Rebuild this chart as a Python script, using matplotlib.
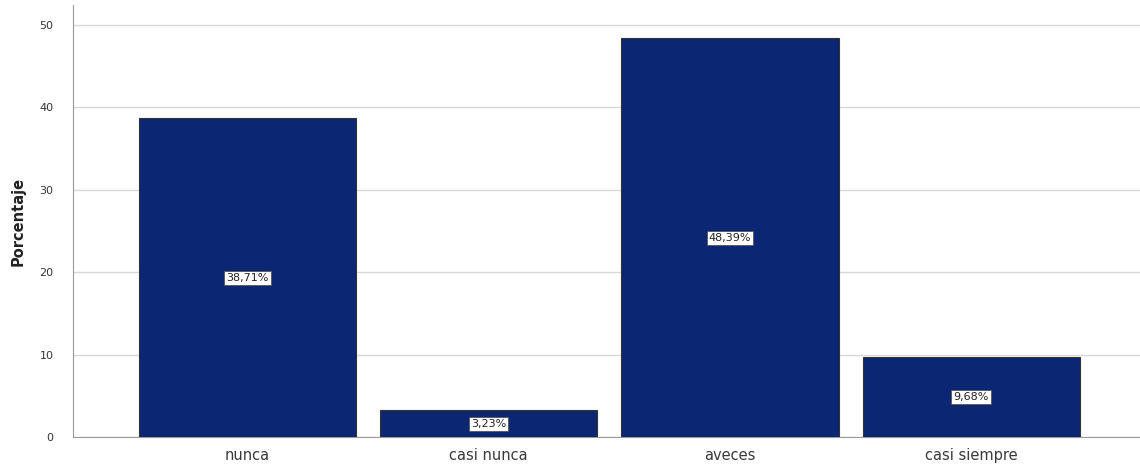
import matplotlib
matplotlib.use("Agg")
from matplotlib import pyplot as plt
import numpy as np

# datos
categorias = ['nunca', 'casi nunca', 'aveces', 'casi siempre']
porcentajes = [38.71, 3.23, 48.39, 9.68]
etiquetas = ['38,71%', '3,23%', '48,39%', '9,68%']
y_ticks = [0, 10, 20, 30, 40, 50]

fig = plt.figure(figsize=(11.4, 4.66), dpi=100)
ax = fig.add_axes([0.064, 0.062, 0.936, 0.927])

x_pos = np.arange(len(categorias))
ax.bar(x_pos, porcentajes, width=0.9, color='#0b2672',
       edgecolor='#333333', linewidth=0.8, zorder=3)

# etiquetas dentro de las barras
for x, v, t in zip(x_pos, porcentajes, etiquetas):
    ax.text(x, v / 2, t, ha='center', va='center', fontsize=8,
            color='#222222', zorder=4,
            bbox=dict(boxstyle='square,pad=0.18', fc='white',
                      ec='#555555', lw=0.6))

ax.set_xticks(x_pos)
ax.set_xticklabels(categorias, fontsize=10.5, color='#3a3a3a')
ax.set_yticks(y_ticks)
ax.set_yticklabels([str(v) for v in y_ticks], fontsize=8, color='#333333')
ax.set_xlim(-0.724, 3.70)
ax.set_ylim(0, 52.4)
ax.set_ylabel('Porcentaje', fontsize=10.5, fontweight='bold',
              color='#222222', labelpad=10)

ax.grid(axis='y', color='#d9d9d9', linewidth=1.0, zorder=0)
ax.tick_params(axis='both', length=0, pad=8)
ax.tick_params(axis='y', pad=14)
for s in ['top', 'right']:
    ax.spines[s].set_visible(False)
ax.spines['left'].set_color('#999999')
ax.spines['bottom'].set_color('#999999')

fig.savefig('out.png', dpi=100)
